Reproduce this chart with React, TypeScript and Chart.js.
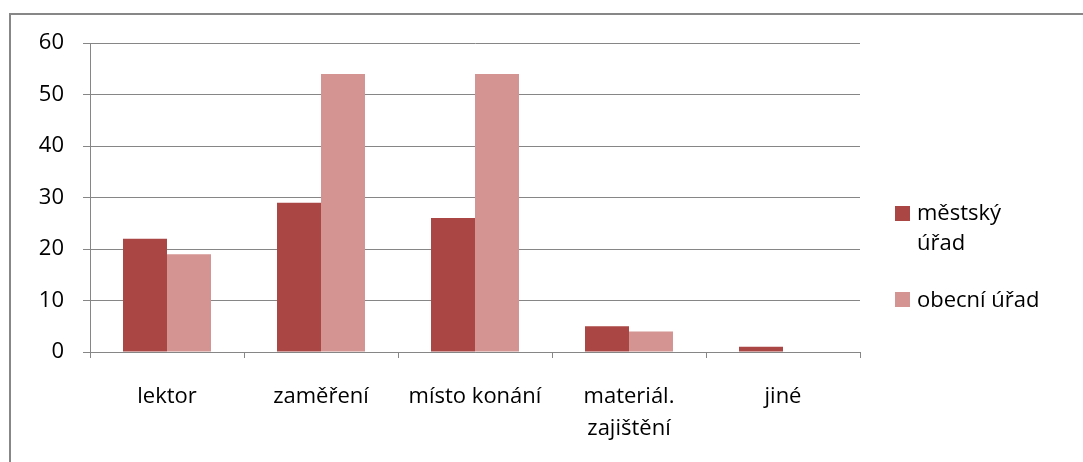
import React, { useEffect, useRef } from "react";
import { Chart, registerables } from "chart.js";

Chart.register(...registerables);

const categories: (string | string[])[] = [
  "lektor",
  "zaměření",
  "místo konání",
  ["materiál.", "zajištění"],
  "jiné",
];
const mestskyUrad = [22, 29, 26, 5, 1];
const obecniUrad = [19, 54, 54, 4, 0];
const yTicks = [0, 10, 20, 30, 40, 50, 60];

const seriesNames: string[][] = [["městský", "úřad"], ["obecní úřad"]];
const colors = ["#AA4643", "#D49492"];

const FONT = "'Open Sans', 'Noto Sans', sans-serif";
const GRID = "#868686";

const legendPlugin = {
  id: "customLegend",
  afterDraw(chart: any) {
    const ctx = chart.ctx;
    ctx.save();
    ctx.font = `22px ${FONT}`;
    ctx.textBaseline = "middle";
    ctx.textAlign = "left";
    const items = [
      { sq: 191, lines: [199, 229] },
      { sq: 277, lines: [286] },
    ];
    items.forEach((it, i) => {
      ctx.fillStyle = colors[i];
      ctx.fillRect(884, it.sq, 15, 15);
      ctx.fillStyle = "#000";
      seriesNames[i].forEach((t, j) => ctx.fillText(t, 906, it.lines[j]));
    });
    ctx.restore();
  },
};

export default function App() {
  const ref = useRef<HTMLCanvasElement>(null);
  useEffect(() => {
    if (!ref.current) return;
    const chart = new Chart(ref.current, {
      type: "bar",
      data: {
        labels: categories,
        datasets: [
          {
            label: seriesNames[0].join(" "),
            data: mestskyUrad,
            backgroundColor: colors[0],
            categoryPercentage: 0.5714,
            barPercentage: 1,
          },
          {
            label: seriesNames[1].join(" "),
            data: obecniUrad,
            backgroundColor: colors[1],
            categoryPercentage: 0.5714,
            barPercentage: 1,
          },
        ],
      },
      options: {
        responsive: false,
        animation: false,
        layout: { padding: { left: 0, top: 28, right: 223, bottom: 0 } },
        plugins: {
          legend: { display: false },
          tooltip: { enabled: false },
        },
        scales: {
          x: {
            afterFit: (s: any) => {
              s.height = 110;
              s.paddingLeft = 0;
              s.paddingRight = 0;
            },
            grid: {
              offset: true,
              drawOnChartArea: false,
              drawTicks: true,
              tickLength: 6,
              color: GRID,
            },
            border: { display: true, color: GRID, width: 1 },
            ticks: {
              color: "#000",
              padding: 23,
              maxRotation: 0,
              autoSkip: false,
              font: { family: FONT, size: 22, lineHeight: 32 / 22 },
            },
          },
          y: {
            min: 0,
            max: 60,
            afterFit: (s: any) => {
              s.width = 79;
              s.paddingTop = 0;
              s.paddingBottom = 0;
            },
            afterBuildTicks: (s: any) => {
              s.ticks = yTicks.map((v) => ({ value: v }));
            },
            grid: {
              color: GRID,
              tickLength: 7,
              drawTicks: true,
            },
            border: { display: true, color: GRID, width: 1 },
            ticks: {
              color: "#000",
              padding: 19,
              font: { family: FONT, size: 22 },
            },
          },
        },
      },
      plugins: [legendPlugin],
    });
    return () => chart.destroy();
  }, []);

  return (
    <div
      style={{
        position: "absolute",
        left: 9,
        top: 13,
        width: 1072,
        height: 447,
        borderTop: "2px solid #878787",
        borderLeft: "2px solid #878787",
        background: "#fff",
      }}
    >
      <canvas ref={ref} width={1072} height={447} style={{ display: "block" }} />
    </div>
  );
}
